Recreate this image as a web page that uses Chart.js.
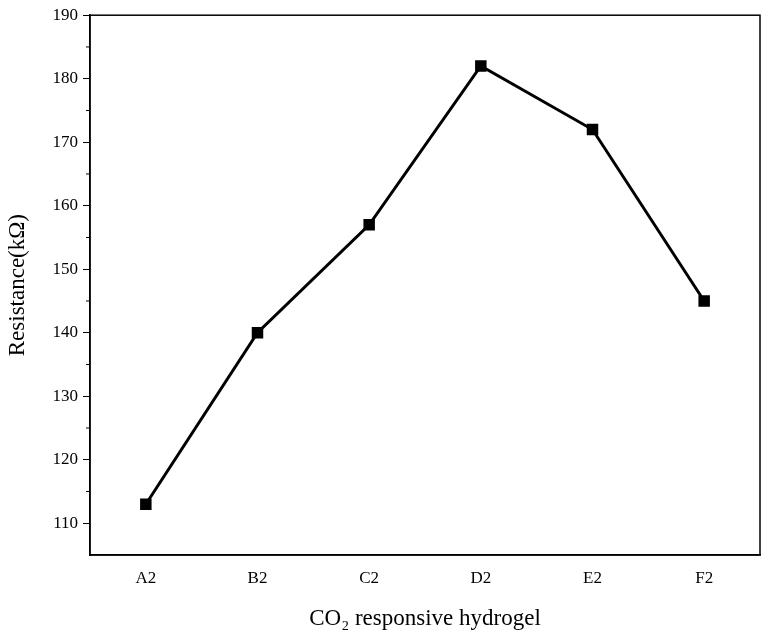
<!DOCTYPE html>
<html>
<head>
<meta charset="utf-8">
<script src="https://cdn.jsdelivr.net/npm/chart.js@4/dist/chart.umd.min.js"></script>
<style>
  html, body { margin: 0; padding: 0; background: #fff; }
  #wrap { width: 776px; height: 637px; }
</style>
</head>
<body>
<div id="wrap"><canvas id="chart"></canvas></div>
<script>
const categories = ['A2', 'B2', 'C2', 'D2', 'E2', 'F2'];
const resistance = [113, 140, 157, 182, 172, 145];
const yMin = 105, yMax = 190;

// frame around the plot plus short minor ticks on the y axis
const framePlugin = {
  id: 'frame',
  afterDraw(chart) {
    const { ctx, chartArea: a, scales } = chart;
    ctx.save();
    ctx.strokeStyle = '#000';
    ctx.lineWidth = 1.5;
    ctx.strokeRect(a.left, a.top, a.right - a.left, a.bottom - a.top);
    ctx.lineWidth = 1;
    for (let v = 115; v < yMax; v += 10) {
      const y = scales.y.getPixelForValue(v);
      ctx.beginPath();
      ctx.moveTo(a.left - 4, y);
      ctx.lineTo(a.left, y);
      ctx.stroke();
    }
    ctx.restore();
  }
};

new Chart(document.getElementById('chart'), {
  type: 'line',
  data: {
    labels: categories,
    datasets: [{
      data: resistance,
      borderColor: '#000',
      backgroundColor: '#000',
      borderWidth: 3,
      pointStyle: 'rect',
      pointRadius: 6,
      pointHoverRadius: 6,
      tension: 0
    }]
  },
  options: {
    responsive: true,
    maintainAspectRatio: false,
    animation: false,
    layout: { padding: { top: 0, right: 16 } },
    plugins: { legend: { display: false }, tooltip: { enabled: false } },
    scales: {
      x: {
        offset: true,
        grid: { display: false, tickLength: 7, color: '#000' },
        border: { color: '#000', width: 1.5 },
        ticks: { color: '#000', font: { family: 'Liberation Serif', size: 17 }, padding: 6 },
        title: {
          display: true,
          text: 'CO₂ responsive hydrogel',
          color: '#000',
          font: { family: 'Liberation Serif', size: 23 },
          padding: { top: 8 }
        },
        afterFit(s) { s.height = 82; }
      },
      y: {
        min: yMin,
        max: yMax,
        afterBuildTicks(s) {
          s.ticks = [];
          for (let v = 110; v <= yMax; v += 10) s.ticks.push({ value: v });
        },
        grid: { display: true, drawOnChartArea: false, tickLength: 7, color: '#000' },
        border: { color: '#000', width: 1.5 },
        ticks: { color: '#000', font: { family: 'Liberation Serif', size: 17 }, padding: 5 },
        title: {
          display: true,
          text: 'Resistance(kΩ)',
          color: '#000',
          font: { family: 'Liberation Serif', size: 23 },
          padding: { bottom: 4 }
        },
        afterFit(s) { s.width = 90; }
      }
    }
  },
  plugins: [framePlugin]
});
</script>
</body>
</html>
